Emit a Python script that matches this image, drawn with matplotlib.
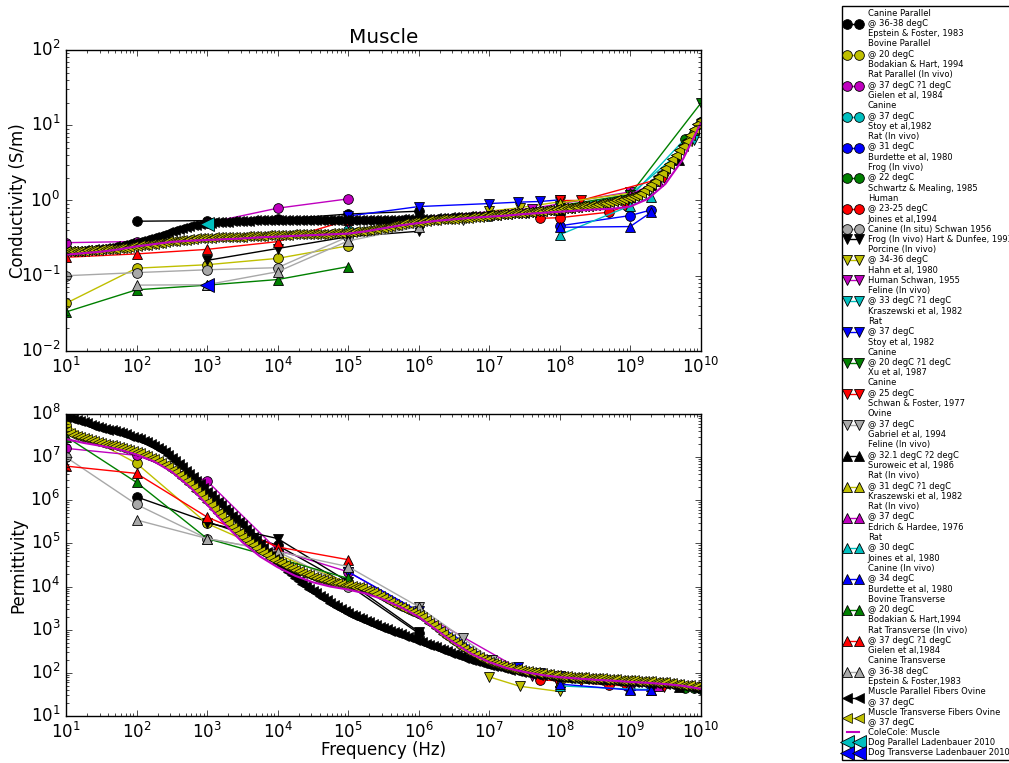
import numpy as np
import matplotlib
matplotlib.use('Agg')
import matplotlib.pyplot as plt

plt.style.use('classic')
plt.rcParams['axes.unicode_minus'] = False

# dense model curves: log10 values every 0.05 decade from 10^1 to 10^10
model_exp = np.arange(1.0, 10.0001, 0.05)
par_cond_log = [
    -0.670, -0.670, -0.670, -0.668, -0.665, -0.663, -0.660, -0.655, -0.650, -0.645, -0.640, -0.635, -0.630, -0.620, -0.610, -0.600, -0.590, -0.580, -0.570, -0.560,
    -0.550, -0.535, -0.520, -0.510, -0.500, -0.485, -0.470, -0.455, -0.440, -0.425, -0.410, -0.395, -0.380, -0.365, -0.350, -0.340, -0.330, -0.320, -0.310, -0.305,
    -0.300, -0.295, -0.290, -0.285, -0.280, -0.280, -0.280, -0.275, -0.270, -0.270, -0.270, -0.270, -0.270, -0.265, -0.260, -0.260, -0.260, -0.260, -0.260, -0.260,
    -0.260, -0.260, -0.260, -0.260, -0.260, -0.260, -0.260, -0.260, -0.260, -0.260, -0.260, -0.260, -0.260, -0.260, -0.260, -0.260, -0.260, -0.260, -0.260, -0.260,
    -0.260, -0.260, -0.260, -0.260, -0.260, -0.260, -0.260, -0.260, -0.260, -0.260, -0.260, -0.260, -0.260, -0.260, -0.255, -0.250, -0.250, -0.250, -0.250, -0.250,
    -0.250, -0.245, -0.240, -0.240, -0.240, -0.235, -0.230, -0.230, -0.230, -0.225, -0.220, -0.220, -0.220, -0.215, -0.210, -0.210, -0.210, -0.205, -0.200, -0.195,
    -0.190, -0.190, -0.190, -0.185, -0.180, -0.175, -0.170, -0.165, -0.160, -0.160, -0.160, -0.155, -0.150, -0.145, -0.140, -0.135, -0.130, -0.125, -0.120, -0.115,
    -0.110, -0.105, -0.100, -0.095, -0.090, -0.085, -0.080, -0.075, -0.070, -0.065, -0.060, -0.050, -0.040, -0.030, -0.020, -0.010, 0.000, 0.010, 0.020, 0.030,
    0.040, 0.060, 0.080, 0.110, 0.140, 0.180, 0.220, 0.270, 0.320, 0.375, 0.430, 0.490, 0.550, 0.610, 0.670, 0.735, 0.800, 0.875, 0.950, 1.015,
    1.080]
trans_cond_log = [
    -0.670, -0.670, -0.670, -0.670, -0.670, -0.665, -0.660, -0.660, -0.660, -0.655, -0.650, -0.650, -0.650, -0.645, -0.640, -0.635, -0.630, -0.625, -0.620, -0.610,
    -0.600, -0.595, -0.590, -0.585, -0.580, -0.575, -0.570, -0.560, -0.550, -0.545, -0.540, -0.535, -0.530, -0.525, -0.520, -0.515, -0.510, -0.505, -0.500, -0.500,
    -0.500, -0.495, -0.490, -0.490, -0.490, -0.485, -0.480, -0.480, -0.480, -0.480, -0.480, -0.475, -0.470, -0.470, -0.470, -0.470, -0.470, -0.465, -0.460, -0.460,
    -0.460, -0.460, -0.460, -0.455, -0.450, -0.450, -0.450, -0.450, -0.450, -0.445, -0.440, -0.440, -0.440, -0.440, -0.440, -0.435, -0.430, -0.430, -0.430, -0.425,
    -0.420, -0.415, -0.410, -0.405, -0.400, -0.395, -0.390, -0.385, -0.380, -0.370, -0.360, -0.350, -0.340, -0.330, -0.320, -0.310, -0.300, -0.295, -0.290, -0.285,
    -0.280, -0.275, -0.270, -0.265, -0.260, -0.255, -0.250, -0.250, -0.250, -0.245, -0.240, -0.235, -0.230, -0.230, -0.230, -0.225, -0.220, -0.215, -0.210, -0.205,
    -0.195, -0.192, -0.190, -0.185, -0.180, -0.175, -0.170, -0.165, -0.162, -0.160, -0.158, -0.155, -0.150, -0.145, -0.140, -0.135, -0.130, -0.125, -0.120, -0.115,
    -0.110, -0.105, -0.100, -0.095, -0.090, -0.085, -0.080, -0.075, -0.070, -0.065, -0.060, -0.050, -0.040, -0.030, -0.020, -0.010, 0.000, 0.010, 0.020, 0.030,
    0.040, 0.058, 0.078, 0.105, 0.135, 0.175, 0.215, 0.265, 0.315, 0.370, 0.425, 0.485, 0.545, 0.605, 0.665, 0.730, 0.795, 0.870, 0.945, 1.010,
    1.075]
par_perm_log = [
    7.94, 7.91, 7.88, 7.855, 7.83, 7.805, 7.78, 7.755, 7.73, 7.705, 7.68, 7.66, 7.64, 7.62, 7.60, 7.575, 7.55, 7.525, 7.50, 7.47,
    7.44, 7.41, 7.38, 7.345, 7.31, 7.265, 7.22, 7.165, 7.11, 7.045, 6.98, 6.91, 6.84, 6.765, 6.69, 6.61, 6.53, 6.45, 6.37, 6.285,
    6.20, 6.12, 6.04, 5.96, 5.88, 5.80, 5.72, 5.645, 5.57, 5.495, 5.42, 5.33, 5.24, 5.155, 5.07, 4.98, 4.89, 4.805, 4.72, 4.635,
    4.55, 4.475, 4.40, 4.33, 4.26, 4.195, 4.13, 4.07, 4.01, 3.955, 3.90, 3.845, 3.79, 3.735, 3.68, 3.63, 3.58, 3.53, 3.48, 3.435,
    3.39, 3.35, 3.31, 3.275, 3.24, 3.205, 3.17, 3.135, 3.10, 3.07, 3.04, 3.01, 2.98, 2.95, 2.92, 2.89, 2.86, 2.83, 2.80, 2.77,
    2.74, 2.71, 2.68, 2.65, 2.62, 2.59, 2.56, 2.53, 2.50, 2.47, 2.44, 2.41, 2.38, 2.355, 2.33, 2.305, 2.28, 2.255, 2.23, 2.21,
    2.19, 2.17, 2.15, 2.13, 2.11, 2.09, 2.07, 2.055, 2.04, 2.025, 2.01, 1.995, 1.98, 1.97, 1.96, 1.95, 1.94, 1.93, 1.92, 1.91,
    1.90, 1.895, 1.89, 1.885, 1.88, 1.875, 1.87, 1.865, 1.86, 1.855, 1.85, 1.845, 1.84, 1.835, 1.83, 1.825, 1.82, 1.815, 1.81, 1.805,
    1.80, 1.795, 1.79, 1.785, 1.78, 1.775, 1.77, 1.765, 1.76, 1.755, 1.75, 1.74, 1.73, 1.72, 1.71, 1.70, 1.69, 1.675, 1.66, 1.645,
    1.63]
trans_perm_log = [
    7.60, 7.56, 7.52, 7.49, 7.46, 7.435, 7.41, 7.39, 7.37, 7.35, 7.33, 7.31, 7.29, 7.27, 7.25, 7.23, 7.21, 7.19, 7.17, 7.145,
    7.12, 7.09, 7.06, 7.025, 6.99, 6.95, 6.91, 6.865, 6.82, 6.765, 6.71, 6.65, 6.59, 6.52, 6.45, 6.375, 6.30, 6.22, 6.14, 6.055,
    5.97, 5.885, 5.80, 5.715, 5.63, 5.55, 5.47, 5.39, 5.31, 5.235, 5.16, 5.09, 5.02, 4.955, 4.89, 4.835, 4.78, 4.725, 4.67, 4.625,
    4.58, 4.54, 4.50, 4.46, 4.42, 4.385, 4.35, 4.32, 4.29, 4.26, 4.23, 4.205, 4.18, 4.155, 4.13, 4.11, 4.09, 4.075, 4.06, 4.045,
    4.03, 4.015, 4.00, 3.98, 3.96, 3.93, 3.90, 3.865, 3.83, 3.785, 3.74, 3.695, 3.65, 3.605, 3.56, 3.52, 3.48, 3.445, 3.41, 3.375,
    3.34, 3.285, 3.23, 3.165, 3.10, 3.035, 2.97, 2.905, 2.84, 2.78, 2.72, 2.665, 2.61, 2.555, 2.50, 2.455, 2.41, 2.37, 2.33, 2.295,
    2.26, 2.23, 2.20, 2.175, 2.15, 2.13, 2.11, 2.095, 2.08, 2.065, 2.05, 2.035, 2.02, 2.01, 2.00, 1.99, 1.98, 1.965, 1.95, 1.94,
    1.93, 1.925, 1.92, 1.915, 1.91, 1.905, 1.90, 1.895, 1.89, 1.885, 1.88, 1.875, 1.87, 1.865, 1.86, 1.855, 1.85, 1.845, 1.84, 1.835,
    1.83, 1.825, 1.82, 1.815, 1.81, 1.805, 1.80, 1.795, 1.79, 1.785, 1.78, 1.77, 1.76, 1.75, 1.74, 1.73, 1.72, 1.71, 1.70, 1.685,
    1.67]

# Cole-Cole line, every 0.25 decade
cole_exp = np.arange(1.0, 10.0001, 0.25)
cole_cond_log = [-0.72, -0.70, -0.68, -0.65, -0.61, -0.58, -0.55, -0.535, -0.525, -0.515,
                 -0.505, -0.49, -0.48, -0.47, -0.46, -0.45, -0.44, -0.41, -0.37, -0.33,
                 -0.30, -0.27, -0.25, -0.23, -0.215, -0.20, -0.18, -0.165, -0.15, -0.135,
                 -0.12, -0.11, -0.08, 0.02, 0.22, 0.55, 1.02]
cole_perm_log = [7.42, 7.33, 7.26, 7.18, 7.06, 6.90, 6.66, 6.32, 5.90, 5.45,
                 5.03, 4.70, 4.45, 4.25, 4.10, 4.00, 3.93, 3.84, 3.70, 3.52,
                 3.30, 3.00, 2.70, 2.44, 2.25, 2.11, 2.02, 1.95, 1.90, 1.87,
                 1.84, 1.82, 1.79, 1.77, 1.74, 1.70, 1.63]

# measured data: (label, color, marker, freq, conductivity, permittivity)
datasets = [
    ('Canine Parallel\n@ 36-38 degC\nEpstein & Foster, 1983', 'k', 'o',
     [1e2, 1e3, 1e4, 1e5, 1e6], [0.53, 0.54, 0.56, 0.66, 0.72], [1.2e6, 3.2e5, 9e4, 1.1e4, 8.3e2]),
    ('Bovine Parallel\n@ 20 degC\nBodakian & Hart, 1994', 'y', 'o',
     [1e1, 1e2, 1e3, 1e4, 1e5], [0.043, 0.126, 0.14, 0.17, 0.25], [5.5e7, 7.2e6, 2.9e5, 5.5e4, 1.2e4]),
    ('Rat Parallel (In vivo)\n@ 37 degC ?1 degC\nGielen et al, 1984', 'm', 'o',
     [1e1, 1e2, 1e3, 1e4, 1e5], [0.275, 0.285, 0.5, 0.79, 1.05], [1.6e7, 1.1e7, 2.8e6, 7e4, 2.2e4]),
    ('Canine\n@ 37 degC\nStoy et al,1982', 'c', 'o',
     [1e5, 1e6, 1e7, 1e8, 1e9, 1e10], [0.41, 0.5, 0.62, 0.76, 1.1, 11.0], [1.1e4, 2.4e3, 170, 70, 55, 42]),
    ('Rat (In vivo)\n@ 31 degC\nBurdette et al, 1980', 'b', 'o',
     [1e8, 1e9, 2e9], [0.46, 0.63, 0.75], [70, 52, 50]),
    ('Frog (In vivo)\n@ 22 degC\nSchwartz & Mealing, 1985', 'g', 'o',
     [6e9, 8e9], [6.5, 8.0], [45, 44]),
    ('Human\n@ 23-25 degC\nJoines et al,1994', 'r', 'o',
     [5.3e7, 1e8, 5e8, 9e8], [0.58, 0.59, 0.70, 0.85], [68, 66, 52, 50]),
    ('Canine (In situ) Schwan 1956', '#a8a8a8', 'o',
     [1e1, 1e2, 1e3, 1e4, 1e5], [0.10, 0.11, 0.12, 0.128, 0.33], [1e7, 8e5, 1.3e5, 6.5e4, 1e4]),
    ('Frog (In vivo) Hart & Dunfee, 1993', 'k', 'v',
     [1e3, 1e4, 1e5, 1e6], [0.16, 0.23, 0.33, 0.39], [3e5, 1.3e5, 1.3e4, 900]),
    ('Porcine (In vivo)\n@ 34-36 degC\nHahn et al, 1980', 'y', 'v',
     [1e7, 2.7e7, 1e8], [0.72, 0.80, 0.96], [81, 49, 37]),
    ('Human Schwan, 1955', 'm', 'v',
     [1e5, 4e7, 1e9], [0.5, 0.78, 1.3], [2.2e4, 85, 55]),
    ('Feline (In vivo)\n@ 33 degC ?1 degC\nKraszewski et al, 1982', 'c', 'v',
     [1e8, 1e9, 8e9], [0.8, 1.2, 6.3], [62, 52, 45]),
    ('Rat\n@ 37 degC\nStoy et al, 1982', 'b', 'v',
     [1e5, 1e6, 1e7, 2.6e7, 5.3e7, 1e8], [0.62, 0.83, 0.91, 0.95, 0.97, 1.02], [2.2e4, 2.7e3, 200, 140, 100, 85]),
    ('Canine\n@ 20 degC ?1 degC\nXu et al, 1987', 'g', 'v',
     [1e8, 1e9, 1e10], [0.85, 1.2, 19.5], [70, 56, 40]),
    ('Canine\n@ 25 degC\nSchwan & Foster, 1977', 'r', 'v',
     [1e8, 2e8, 3e9], [1.0, 1.0, 2.0], [72, 66, 48]),
    ('Ovine\n@ 37 degC\nGabriel et al, 1994', '#a8a8a8', 'v',
     [1e6, 4.3e6, 1.1e7], [0.5, 0.55, 0.62], [3.4e3, 630, 200]),
    ('Feline (In vivo)\n@ 32.1 degC ?2 degC\nSuroweic et al, 1986', 'k', '^',
     [1e8, 1e9, 2e9, 5e9], [0.75, 1.1, 1.6, 3.5], [62, 52, 50, 46]),
    ('Rat (In vivo)\n@ 31 degC ?1 degC\nKraszewski et al, 1982', 'y', '^',
     [1e8, 1e9], [0.93, 1.25], [62, 54]),
    ('Rat (In vivo)\n@ 37 degC\nEdrich & Hardee, 1976', 'm', '^',
     [1e9, 2.5e9], [1.2, 1.8], [52, 49]),
    ('Rat\n@ 30 degC\nJoines et al, 1980', 'c', '^',
     [1e8, 1e9, 2e9], [0.35, 0.85, 1.12], [50, 42, 41]),
    ('Canine (In vivo)\n@ 34 degC\nBurdette et al, 1980', 'b', '^',
     [1e8, 1e9, 2e9], [0.44, 0.45, 0.70], [55, 40, 40]),
    ('Bovine Transverse\n@ 20 degC\nBodakian & Hart,1994', 'g', '^',
     [1e1, 1e2, 1e3, 1e4, 1e5], [0.033, 0.065, 0.075, 0.089, 0.132], [3e7, 2.6e6, 1.3e5, 4.5e4, 1.55e4]),
    ('Rat Transverse (In vivo)\n@ 37 degC ?1 degC\nGielen et al,1984', 'r', '^',
     [1e1, 1e2, 1e3, 1e4, 1e5], [0.176, 0.195, 0.224, 0.284, 0.55], [6.2e6, 4.2e6, 4.1e5, 8.3e4, 4.2e4]),
    ('Canine Transverse\n@ 36-38 degC\nEpstein & Foster,1983', '#a8a8a8', '^',
     [1e2, 1e3, 1e4, 1e5, 1e6], [0.075, 0.076, 0.113, 0.29, 0.45], [3.5e5, 1.3e5, 6.5e4, 2.9e4, 3.4e3]),
]

lad_par_f = [1e3]
lad_par_cond = [0.49]
lad_trans_f = [1e3]
lad_trans_cond = [0.075]

fig = plt.figure(figsize=(10.09, 7.63), dpi=100, facecolor='white')
ax1 = fig.add_axes([0.0654, 0.540, 0.629, 0.3945])
ax2 = fig.add_axes([0.0654, 0.0616, 0.629, 0.3958])

for label, col, mk, f, cond, perm in datasets:
    ax1.plot(f, cond, color=col, marker=mk, ms=7, mec='k', mew=0.6, lw=1, label=label)
    ax2.plot(f, perm, color=col, marker=mk, ms=7, mec='k', mew=0.6, lw=1)

fm = 10 ** model_exp
ax1.plot(fm, 10 ** np.array(par_cond_log), color='k', marker='<', ms=7, mec='k', mew=0.5, lw=1,
         label='Muscle Parallel Fibers Ovine\n@ 37 degC')
ax2.plot(fm, 10 ** np.array(par_perm_log), color='k', marker='<', ms=7, mec='k', mew=0.5, lw=1)
ax1.plot(fm, 10 ** np.array(trans_cond_log), color='y', marker='<', ms=7, mec='k', mew=0.5, lw=1,
         label='Muscle Transverse Fibers Ovine\n@ 37 degC')
ax2.plot(fm, 10 ** np.array(trans_perm_log), color='y', marker='<', ms=7, mec='k', mew=0.5, lw=1)

fc = 10 ** cole_exp
ax1.plot(fc, 10 ** np.array(cole_cond_log), color='m', lw=1.5, label='ColeCole: Muscle')
ax2.plot(fc, 10 ** np.array(cole_perm_log), color='m', lw=1.5)

ax1.plot(lad_par_f, lad_par_cond, color='c', marker='<', ms=10, mec='k', mew=0.6, ls='none',
         label='Dog Parallel Ladenbauer 2010')
ax1.plot(lad_trans_f, lad_trans_cond, color='b', marker='<', ms=10, mec='k', mew=0.6, ls='none',
         label='Dog Transverse Ladenbauer 2010')

for ax in (ax1, ax2):
    ax.set_xscale('log')
    ax.set_yscale('log')
    ax.set_xlim(1e1, 1e10)

ax1.set_ylim(1e-2, 1e2)
ax2.set_ylim(1e1, 1e8)
ax1.set_title('Muscle')
ax1.set_ylabel('Conductivity (S/m)')
ax2.set_ylabel('Permittivity')
ax2.set_xlabel('Frequency (Hz)')
ax1.yaxis.set_label_coords(-0.061, 0.5)
ax2.yaxis.set_label_coords(-0.061, 0.5)
ax2.xaxis.set_label_coords(0.5, -0.083)

handles, labels = ax1.get_legend_handles_labels()
fig.legend(handles, labels, loc='upper left', bbox_to_anchor=(0.8345, 0.9921),
           borderaxespad=0, fontsize=6, labelspacing=0.13, numpoints=2,
           handlelength=2.0, handletextpad=0.8, borderpad=0.3)

fig.savefig('out.png', dpi=100, facecolor='white')
